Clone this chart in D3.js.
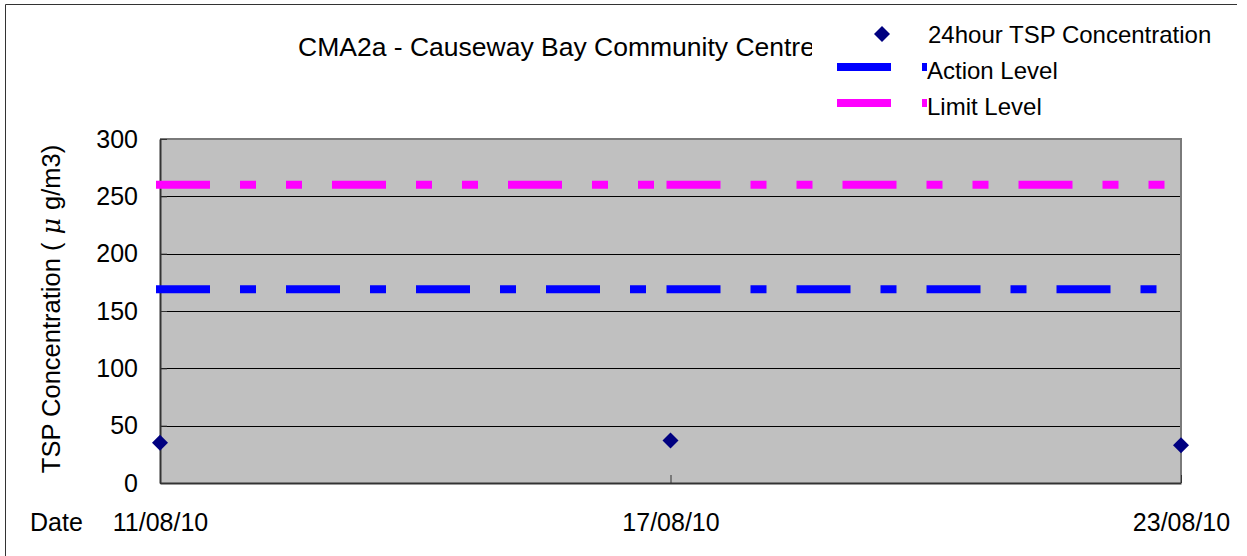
<!DOCTYPE html>
<html>
<head>
<meta charset="utf-8">
<script src="https://cdn.jsdelivr.net/npm/d3@7"></script>
<style>
  html, body { margin: 0; padding: 0; background: #fff; }
  svg { display: block; font-family: "Liberation Sans", Arial, sans-serif; }
</style>
</head>
<body>
<svg id="chart" width="1247" height="556"></svg>
<script>
// ---- data ----
const dates = ["2010-08-11", "2010-08-17", "2010-08-23"];
const dateLabels = ["11/08/10", "17/08/10", "23/08/10"];
const tspValues = [35, 37, 33];
const actionLevel = [169, 169, 169];
const limitLevel = [260, 260, 260];
const yTicks = [0, 50, 100, 150, 200, 250, 300];
const titleText = "CMA2a - Causeway Bay Community Centre";
const legendLabels = ["24hour TSP Concentration", "Action Level", "Limit Level"];

const parse = d3.timeParse("%Y-%m-%d");
const dateObjs = dates.map(parse);

const svg = d3.select("#chart");
const W = 1247, H = 556;
const plot = { left: 160, right: 1181, top: 139, bottom: 483 };

const x = d3.scaleTime().domain([dateObjs[0], dateObjs[dateObjs.length - 1]]).range([plot.left, plot.right]);
const y = d3.scaleLinear().domain([0, 300]).range([plot.bottom, plot.top]);

// outer chart border (top + left)
svg.append("line").attr("x1", 5.5).attr("y1", 4.5).attr("x2", 1237).attr("y2", 4.5)
  .attr("stroke", "#333").attr("stroke-width", 1);
svg.append("line").attr("x1", 5.5).attr("y1", 4.5).attr("x2", 5.5).attr("y2", H)
  .attr("stroke", "#333").attr("stroke-width", 1);

// plot background
svg.append("rect")
  .attr("x", plot.left).attr("y", plot.top)
  .attr("width", plot.right - plot.left).attr("height", plot.bottom - plot.top)
  .attr("fill", "#C0C0C0");

// gridlines
svg.append("g").selectAll("line")
  .data(yTicks.filter(t => t > 0 && t < 300))
  .join("line")
  .attr("x1", plot.left).attr("x2", plot.right)
  .attr("y1", d => Math.round(y(d)) + 0.5).attr("y2", d => Math.round(y(d)) + 0.5)
  .attr("stroke", "#000").attr("stroke-width", 1);

// plot border: top/right gray, left/bottom dark
svg.append("line").attr("x1", plot.left).attr("x2", plot.right + 1).attr("y1", plot.top).attr("y2", plot.top)
  .attr("stroke", "#7a7a7a").attr("stroke-width", 2);
svg.append("line").attr("x1", plot.right).attr("x2", plot.right).attr("y1", plot.top).attr("y2", plot.bottom)
  .attr("stroke", "#7a7a7a").attr("stroke-width", 2);

// y axis
const yAxis = d3.axisLeft(y).tickValues(yTicks).tickSizeInner(-7).tickSizeOuter(0).tickPadding(22);
const gy = svg.append("g").attr("transform", `translate(${plot.left},0)`).call(yAxis);
gy.select(".domain").attr("stroke", "#333").attr("stroke-width", 2);
gy.selectAll(".tick line").attr("stroke", "#333");
gy.selectAll(".tick text").attr("font-size", 25).attr("fill", "#000")
  .attr("font-family", "Liberation Sans, Arial, sans-serif");

// x axis
const xAxis = d3.axisBottom(x).tickValues(dateObjs).tickSizeInner(-8).tickSizeOuter(0)
  .tickFormat((d, i) => dateLabels[i]).tickPadding(30);
const gx = svg.append("g").attr("transform", `translate(0,${plot.bottom})`).call(xAxis);
gx.select(".domain").attr("stroke", "#333").attr("stroke-width", 2);
gx.selectAll(".tick line").attr("stroke", "#333");
gx.selectAll(".tick text").attr("font-size", 25).attr("fill", "#000")
  .attr("font-family", "Liberation Sans, Arial, sans-serif");

// "Date" label
svg.append("text").attr("x", 30).attr("y", 531).attr("font-size", 25).text("Date");

// y title
const yt = svg.append("text")
  .attr("transform", `translate(60,${(plot.top + plot.bottom) / 2 - 2}) rotate(-90)`)
  .attr("text-anchor", "middle").attr("font-size", 25.5);
yt.append("tspan").text("TSP Concentration (");
yt.append("tspan").attr("font-family", "DejaVu Serif").attr("font-style", "italic").attr("dx", 8).text("μ");
yt.append("tspan").attr("dx", 8).text("g/m3)");

// level lines: each segment between consecutive dates drawn separately
function levelSegments(values) {
  const segs = [];
  for (let i = 0; i < values.length - 1; i++) {
    segs.push([[dateObjs[i], values[i]], [dateObjs[i + 1], values[i + 1]]]);
  }
  return segs;
}
const line = d3.line().x(d => x(d[0])).y(d => y(d[1]));

svg.append("g").selectAll("path").data(levelSegments(limitLevel)).join("path")
  .attr("d", line).attr("fill", "none").attr("stroke", "#FF00FF").attr("stroke-width", 8)
  .attr("stroke-linecap", "square").attr("stroke-dasharray", "46,38,8,38,8,38");
svg.append("g").selectAll("path").data(levelSegments(actionLevel)).join("path")
  .attr("d", line).attr("fill", "none").attr("stroke", "#0000FF").attr("stroke-width", 8)
  .attr("stroke-linecap", "square").attr("stroke-dasharray", "46,38,8,38");

// data points
const diamond = d3.symbol().type(d3.symbolSquare).size(128);
svg.append("g").selectAll("path").data(tspValues).join("path")
  .attr("d", diamond)
  .attr("transform", (d, i) => `translate(${x(dateObjs[i])},${y(d)}) rotate(45)`)
  .attr("fill", "#000080");

// title
svg.append("text").attr("x", 298).attr("y", 56).attr("font-size", 26.5).text(titleText);

// legend (white box covering title end)
const lg = svg.append("g");
lg.append("rect").attr("x", 812).attr("y", 10).attr("width", 425).attr("height", 115).attr("fill", "#fff");
lg.append("path").attr("d", diamond).attr("transform", "translate(882,34) rotate(45)").attr("fill", "#000080");
lg.append("line").attr("x1", 837).attr("x2", 891).attr("y1", 67).attr("y2", 67).attr("stroke", "#0000FF").attr("stroke-width", 8);
lg.append("rect").attr("x", 922).attr("y", 63).attr("width", 5).attr("height", 8).attr("fill", "#0000FF");
lg.append("line").attr("x1", 837).attr("x2", 891).attr("y1", 103).attr("y2", 103).attr("stroke", "#FF00FF").attr("stroke-width", 8);
lg.append("rect").attr("x", 922).attr("y", 99).attr("width", 5).attr("height", 8).attr("fill", "#FF00FF");
lg.selectAll("text.lt").data(legendLabels).join("text").attr("class", "lt")
  .attr("x", (d, i) => i === 0 ? 928 : 927)
  .attr("y", (d, i) => 43 + i * 36)
  .attr("font-size", 24).text(d => d);
</script>
</body>
</html>
